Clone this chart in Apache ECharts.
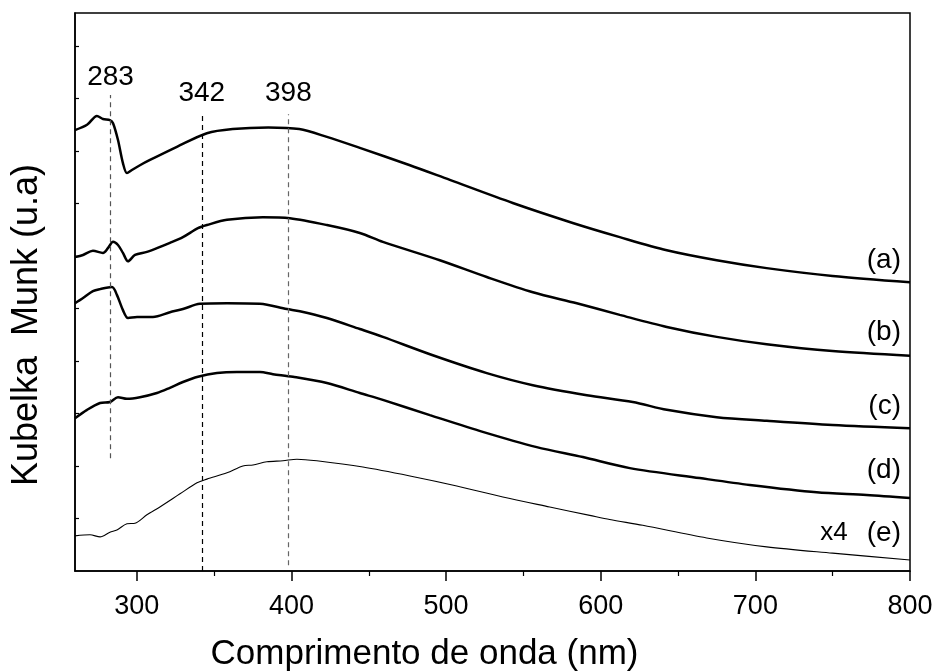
<!DOCTYPE html>
<html>
<head>
<meta charset="utf-8">
<script src="https://cdn.jsdelivr.net/npm/echarts@6/dist/echarts.min.js"></script>
<style>
html,body{margin:0;padding:0;background:#fff;}
#chart{width:936px;height:672px;}
</style>
</head>
<body>
<div id="chart"></div>
<script>
// Wavelength (nm) and Kubelka-Munk (arbitrary, offset) values
const waveA = [260, 267.8, 274.2, 278.1, 282.6, 284.6, 287.8, 291.0, 293.6, 296.8, 302.0, 308.5, 325.9, 345.3, 362.0, 385.0, 405.0, 422.9, 444.2, 476.6, 502.4, 543.1, 581.9, 612.3, 642.7, 675.0, 707.3, 749.9, 800];
const kmA   = [8.40, 8.50, 8.67, 8.61, 8.59, 8.53, 8.21, 7.77, 7.58, 7.64, 7.73, 7.83, 8.08, 8.34, 8.42, 8.45, 8.42, 8.27, 8.06, 7.73, 7.45, 7.01, 6.63, 6.36, 6.11, 5.92, 5.77, 5.62, 5.50];

const waveB = [260, 265.2, 271.6, 278.1, 281.3, 284.6, 287.8, 291.0, 294.3, 298.8, 306.5, 313.0, 321.4, 329.8, 339.5, 345.3, 358.3, 381.5, 399.0, 422.9, 444.2, 459.1, 495.9, 526.3, 556.1, 584.5, 612.3, 642.7, 675.0, 707.3, 749.9, 800];
const kmB   = [5.98, 6.02, 6.10, 6.06, 6.15, 6.27, 6.21, 6.06, 5.90, 6.02, 6.08, 6.15, 6.25, 6.36, 6.53, 6.59, 6.69, 6.74, 6.72, 6.59, 6.44, 6.27, 5.92, 5.60, 5.31, 5.10, 4.88, 4.65, 4.46, 4.32, 4.19, 4.10];

const waveC = [260, 265.2, 271.6, 276.2, 283.9, 287.1, 291.0, 294.3, 300.1, 310.4, 321.4, 329.8, 340.8, 358.3, 379.6, 397.0, 405.4, 422.9, 444.2, 459.1, 491.4, 526.3, 556.1, 591.0, 620.7, 642.7, 675.0, 707.3, 749.9, 800];
const kmC   = [5.10, 5.20, 5.33, 5.37, 5.41, 5.26, 4.97, 4.82, 4.84, 4.84, 4.93, 4.99, 5.09, 5.10, 5.09, 4.99, 4.95, 4.82, 4.61, 4.46, 4.11, 3.77, 3.54, 3.35, 3.22, 3.07, 2.93, 2.86, 2.78, 2.72];

const waveD = [260, 267.8, 276.2, 282.6, 287.8, 293.6, 302.0, 313.0, 321.4, 329.8, 339.5, 351.8, 364.7, 379.6, 388.0, 400.9, 422.9, 444.2, 459.1, 489.5, 523.7, 558.6, 588.4, 618.8, 664.0, 696.4, 739.6, 771.9, 800];
const kmD   = [2.91, 3.07, 3.20, 3.22, 3.31, 3.28, 3.31, 3.39, 3.49, 3.60, 3.70, 3.77, 3.79, 3.79, 3.75, 3.70, 3.58, 3.39, 3.26, 2.97, 2.65, 2.36, 2.17, 1.96, 1.77, 1.64, 1.50, 1.45, 1.39];

const waveE = [260, 269.7, 276.2, 282.6, 287.1, 293.6, 298.8, 306.5, 314.9, 327.9, 338.9, 345.3, 358.3, 368.6, 375.1, 384.1, 394.5, 403.5, 416.4, 446.2, 476.6, 506.9, 536.7, 567.0, 592.9, 605.8, 627.2, 668.5, 707.3, 749.9, 800];
const kmE   = [0.67, 0.69, 0.65, 0.74, 0.78, 0.90, 0.91, 1.07, 1.22, 1.47, 1.68, 1.75, 1.87, 2.00, 2.02, 2.08, 2.10, 2.13, 2.10, 1.98, 1.81, 1.62, 1.41, 1.22, 1.06, 0.98, 0.87, 0.63, 0.46, 0.34, 0.21];

const xMajorTicks = [300, 400, 500, 600, 700, 800];
const xMinorTicks = [350, 450, 550, 650, 750];
const yTicks = [1, 2, 3, 4, 5, 6, 7, 8, 9, 10];

const peakMarks = [283, 342, 398];
const peakLineRange = [[2.15, 9.07], [0, 8.69], [0.11, 8.70]];
const peakLineColor = ['#555', '#000', '#666'];
const peakLabelDist = [4, 8, 7];

const curveLabels = ['(a)', '(b)', '(c)', '(d)', '(e)'];

function pairs(xs, ys) { return xs.map((x, i) => [x, ys[i]]); }

const FONT = 'Liberation Sans, Arial, sans-serif';
const chart = echarts.init(document.getElementById('chart'), null, {renderer: 'canvas'});

const markData = peakMarks.map((p, i) => [
  {
    coord: [p, peakLineRange[i][0]],
    lineStyle: {color: peakLineColor[i], type: [5, 4], width: 1.2},
    label: {show: true, position: 'end', formatter: String(p), fontSize: 28, color: '#000', fontFamily: FONT, distance: peakLabelDist[i]}
  },
  {coord: [p, peakLineRange[i][1]]}
]);

function lineSeries(name, xs, ys, w, extra) {
  return Object.assign({
    name: name,
    type: 'line',
    data: pairs(xs, ys),
    showSymbol: false,
    symbol: 'none',
    smooth: 0.3,
    silent: true,
    animation: false,
    lineStyle: {color: '#000', width: w},
    xAxisIndex: 0,
    yAxisIndex: 0
  }, extra || {});
}

const labelY = [260, 332, 406, 470, 533];

chart.setOption({
  backgroundColor: '#fff',
  animation: false,
  grid: {left: 75, right: 26, top: 13, bottom: 101, containLabel: false, outerBoundsMode: 'none', show: true, borderColor: '#000', borderWidth: 1.5, backgroundColor: 'transparent'},
  xAxis: [
    {
      type: 'value', min: 260, max: 800, position: 'bottom',
      name: 'Comprimento de onda (nm)', nameLocation: 'middle', nameGap: 66,
      nameTextStyle: {fontSize: 35, color: '#000', fontFamily: FONT, padding: [0, 136, 0, 0]},
      axisLine: {show: true, onZero: false, lineStyle: {color: '#000', width: 1.5}},
      axisTick: {show: true, inside: false, length: 10, customValues: xMajorTicks, lineStyle: {color: '#000', width: 1.5}},
      axisLabel: {show: true, customValues: xMajorTicks, fontSize: 27, color: '#000', fontFamily: FONT, margin: 22},
      splitLine: {show: false}
    },
    {
      type: 'value', min: 260, max: 800, position: 'bottom', offset: 0,
      axisLine: {show: false},
      axisTick: {show: true, inside: false, length: 5, customValues: xMinorTicks, lineStyle: {color: '#000', width: 1.2}},
      axisLabel: {show: false},
      splitLine: {show: false}
    }
  ],
  yAxis: [
    {
      type: 'value', min: 0, max: 10.63, position: 'left',
      name: 'Kubelka  Munk (u.a)', nameLocation: 'middle', nameGap: 30,
      nameTextStyle: {fontSize: 36, color: '#000', fontFamily: FONT, padding: [0, 66, 0, 0]},
      axisLine: {show: true, onZero: false, lineStyle: {color: '#000', width: 1.5}},
      axisTick: {show: true, inside: true, length: 4, customValues: yTicks, lineStyle: {color: '#000', width: 1.2}},
      axisLabel: {show: false},
      splitLine: {show: false}
    }
  ],
  graphic: curveLabels.map((t, i) => ({
    type: 'text', x: 901, y: labelY[i], silent: true,
    style: {text: t, font: '28px ' + FONT, fill: '#000', textAlign: 'right', textVerticalAlign: 'middle'}
  })).concat([{
    type: 'text', x: 834, y: 533, silent: true,
    style: {text: 'x4', font: '26px ' + FONT, fill: '#000', textAlign: 'center', textVerticalAlign: 'middle'}
  }]),
  series: [
    lineSeries('a', waveA, kmA, 2.5, {markLine: {symbol: 'none', silent: true, animation: false, data: markData}}),
    lineSeries('b', waveB, kmB, 2.5),
    lineSeries('c', waveC, kmC, 2.5),
    lineSeries('d', waveD, kmD, 2.5),
    lineSeries('e', waveE, kmE, 1.1)
  ]
});
</script>
</body>
</html>
